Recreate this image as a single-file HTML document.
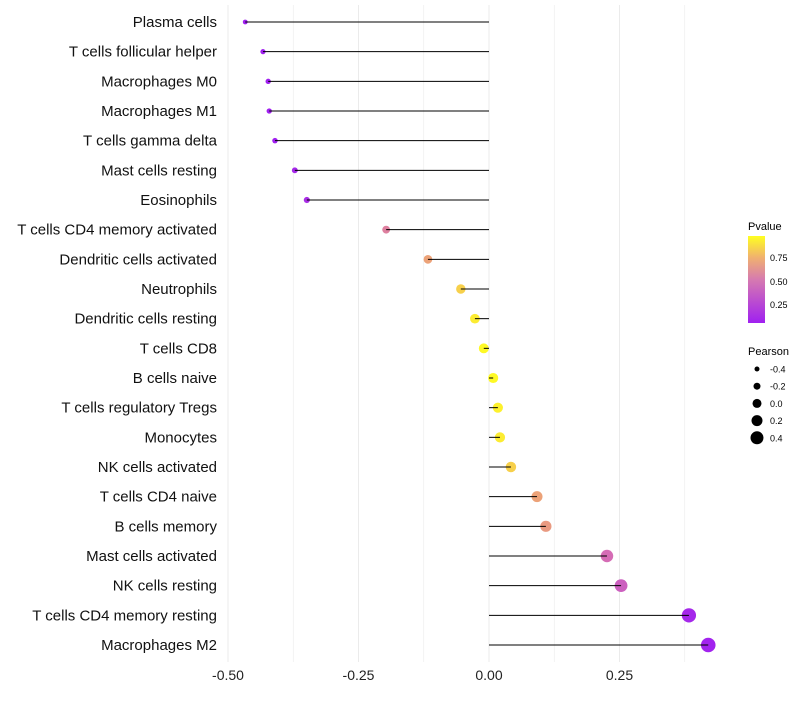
<!DOCTYPE html>
<html><head><meta charset="utf-8"><style>
body{margin:0;background:#fff;font-family:"Liberation Sans",sans-serif}
svg text{font-family:"Liberation Sans",sans-serif}
</style></head><body>
<svg id="chart" width="800" height="700" xmlns="http://www.w3.org/2000/svg">
<defs><linearGradient id="pg" x1="0" y1="1" x2="0" y2="0">
<stop offset="0" stop-color="#A020F0"/><stop offset="0.5" stop-color="#D67AB0"/><stop offset="0.75" stop-color="#F0B070"/><stop offset="1" stop-color="#FFFF20"/></linearGradient></defs>
<g id="grid"></g>
<g id="marks"></g>
<g id="labels"></g>
<g id="xticks"></g>
<g>
<text x="748" y="230" font-size="11">Pvalue</text>
<rect x="748" y="236" width="17" height="87" fill="url(#pg)"/>
<text x="770" y="261" font-size="9">0.75</text>
<text x="770" y="285" font-size="9">0.50</text>
<text x="770" y="308" font-size="9">0.25</text>
</g>
<g id="sizeleg">
<text x="748" y="355" font-size="11">Pearson</text>
</g>
</svg>
<script>
const categories=["Plasma cells","T cells follicular helper","Macrophages M0","Macrophages M1","T cells gamma delta","Mast cells resting","Eosinophils","T cells CD4 memory activated","Dendritic cells activated","Neutrophils","Dendritic cells resting","T cells CD8","B cells naive","T cells regulatory  Tregs ","Monocytes","NK cells activated","T cells CD4 naive","B cells memory","Mast cells activated","NK cells resting","T cells CD4 memory resting","Macrophages M2"];
const pearson=[-0.467,-0.433,-0.423,-0.421,-0.410,-0.372,-0.349,-0.197,-0.117,-0.054,-0.027,-0.010,0.008,0.017,0.021,0.042,0.092,0.109,0.226,0.253,0.383,0.420];
const pvalues=[0.02,0.03,0.04,0.04,0.05,0.08,0.1,0.45,0.62,0.8,0.9,0.95,0.95,0.92,0.9,0.8,0.62,0.58,0.35,0.3,0.08,0.06];
const xTicks=[-0.5,-0.25,0,0.25];
const xTickLabels=["-0.50","-0.25","0.00","0.25"];
const sizeLegend=[-0.4,-0.2,0.0,0.2,0.4];
const sizeLegendLabels=["-0.4","-0.2","0.0","0.2","0.4"];
const NS="http://www.w3.org/2000/svg";
const X=v=>489+v*522;
const Y=i=>22+i*(623/21);
const R=v=>Math.max(1.6,5+5.5*v);
function lerp(a,b,t){return a.map((x,i)=>Math.round(x+(b[i]-x)*t));}
function color(p){const t=Math.min(1,Math.max(0,(p-0.05)/0.92));
 const stops=[[160,32,240],[214,110,180],[240,170,110],[255,255,32]];
 const s=t*3,i=Math.min(2,Math.floor(s));const c=lerp(stops[i],stops[i+1],s-i);return `rgb(${c})`;}
function el(tag,attrs,parent){const e=document.createElementNS(NS,tag);for(const k in attrs)e.setAttribute(k,attrs[k]);parent.appendChild(e);return e;}
const grid=document.getElementById('grid'),marks=document.getElementById('marks'),labels=document.getElementById('labels'),xt=document.getElementById('xticks');
for(let v=-0.5;v<=0.40;v+=0.125){const l=el('line',{x1:X(v),x2:X(v),y1:5,y2:662,stroke:'#ebebeb','stroke-width':Math.abs((v*4)%1)<0.01?1:0.6},grid);

}
xTicks.forEach((v,i)=>{const t=el('text',{x:X(v),y:680,'font-size':14,'text-anchor':'middle',fill:'#222'},xt);t.textContent=xTickLabels[i];

});
categories.forEach((c,i)=>{const y=Y(i);
 const t=el('text',{x:217,y:y+5,'font-size':15,'text-anchor':'end',fill:'#111'},labels);t.textContent=c;
 
 
 const d=el('circle',{cx:X(pearson[i]),cy:y,r:R(pearson[i]),fill:color(pvalues[i])},marks);
 
 
 const ln=el('line',{x1:X(0),x2:X(pearson[i]),y1:y,y2:y,stroke:'#000','stroke-width':1},marks);
 
 });
const sl=document.getElementById('sizeleg');
sizeLegend.forEach((v,i)=>{const y=369+i*17.2;
 const d=el('circle',{cx:757,cy:y,r:2.5+(v+0.4)*5,fill:'#000'},sl);
 
 
 const t=el('text',{x:770,y:y+3.5,'font-size':9},sl);t.textContent=sizeLegendLabels[i];
 
 });
</script>
</body></html>
